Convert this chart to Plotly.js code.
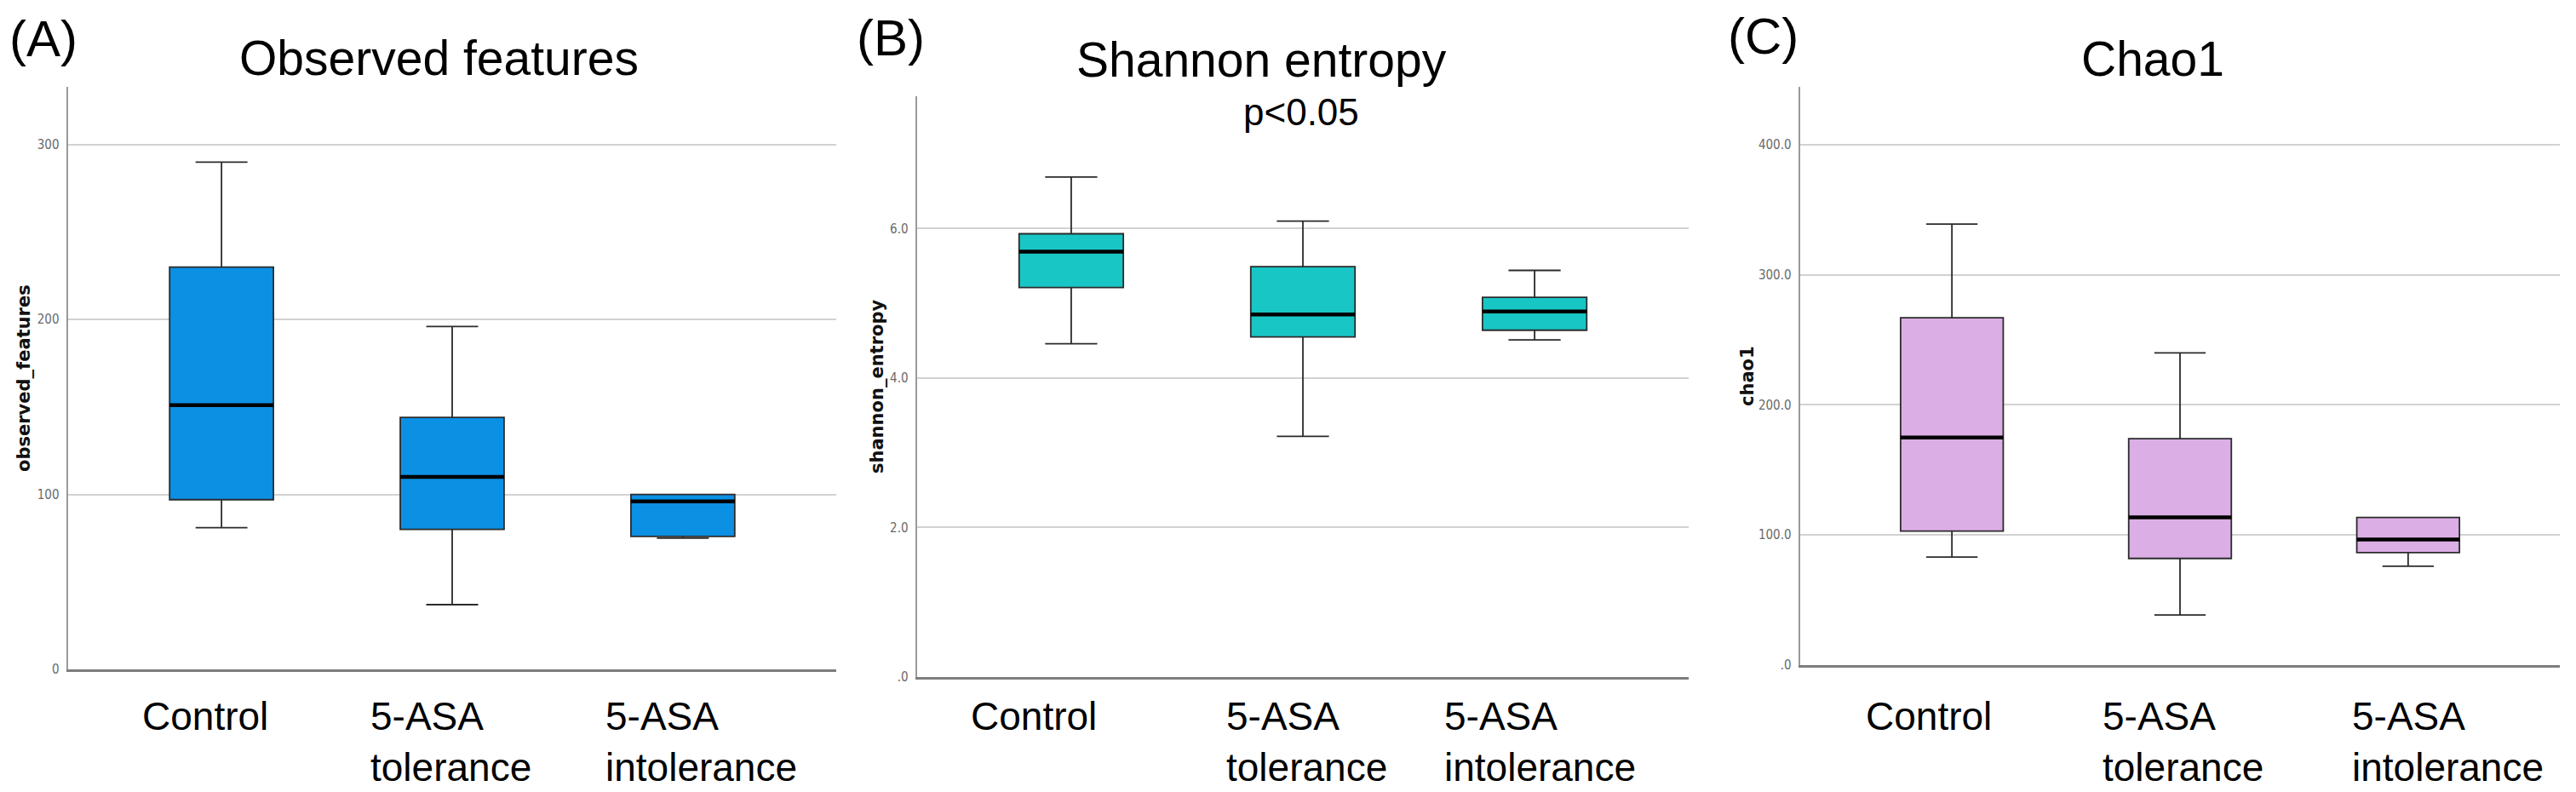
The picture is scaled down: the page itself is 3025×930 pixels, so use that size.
<!DOCTYPE html>
<html>
<head>
<meta charset="utf-8">
<script src="https://cdn.plot.ly/plotly-3.0.1.min.js"></script>
<style>
  html, body { margin: 0; padding: 0; background: #ffffff; }
  #chart { width: 3025px; height: 930px; }
</style>
</head>
<body>
<div id="chart"></div>
<script>
// ---------------- data ----------------
const categories = ['Control', '5-ASA tolerance', '5-ASA intolerance'];
const categoryLabels = ['Control', '5-ASA<br>tolerance', '5-ASA<br>intolerance'];

// (A) Observed features
const obsUpper  = [290, 196, 100];
const obsQ3     = [230, 144, 100];
const obsMedian = [151, 110, 96];
const obsQ1     = [97, 80, 76];
const obsLower  = [81, 37, 75];

// (B) Shannon entropy
const shanUpper  = [6.69, 6.10, 5.44];
const shanQ3     = [5.93, 5.49, 5.08];
const shanMedian = [5.69, 4.85, 4.89];
const shanQ1     = [5.21, 4.55, 4.64];
const shanLower  = [4.46, 3.22, 4.51];

// (C) Chao1
const chaoUpper  = [339, 240, 113.5];
const chaoQ3     = [267, 174, 113.5];
const chaoMedian = [175, 113.5, 96.5];
const chaoQ1     = [103, 82, 86.5];
const chaoLower  = [83, 38.6, 76];

// tick labels
const obsTickVals  = [0, 100, 200, 300];
const obsTickText  = ['0', '100', '200', '300'];
const shanTickVals = [0, 2, 4, 6];
const shanTickText = ['.0', '2.0', '4.0', '6.0'];
const chaoTickVals = [0, 100, 200, 300, 400];
const chaoTickText = ['.0', '100.0', '200.0', '300.0', '400.0'];

// ---------------- styling / layout ----------------
const W = 3025, H = 930;
const px = v => v / W;
const py = v => 1 - v / H;

const panels = [
  { key: '', label: '(A)', title: 'Observed features', sub: null, ytitle: 'observed_features',
    fill: '#0B90E4', upper: obsUpper, q3: obsQ3, med: obsMedian, q1: obsQ1, lower: obsLower,
    tickvals: obsTickVals, ticktext: obsTickText, yrange: [0, 333],
    xdom: [80, 982], ydom: [102, 786], labelPos: [9, 46], titlePos: [515, 67.5],
    ytitlePos: [28, 444], labelShift: [-19, -2, 22] },
  { key: '2', label: '(B)', title: 'Shannon entropy', sub: 'p<0.05', ytitle: 'shannon_entropy',
    fill: '#18C6C6', upper: shanUpper, q3: shanQ3, med: shanMedian, q1: shanQ1, lower: shanLower,
    tickvals: shanTickVals, ticktext: shanTickText, yrange: [0, 7.77],
    xdom: [1077, 1983], ydom: [113, 795], labelPos: [1004, 44], titlePos: [1481, 70],
    subPos: [1528, 131], ytitlePos: [1030, 454], labelShift: [-44, 4, 6] },
  { key: '3', label: '(C)', title: 'Chao1', sub: null, ytitle: 'chao1',
    fill: '#DCAEE6', upper: chaoUpper, q3: chaoQ3, med: chaoMedian, q1: chaoQ1, lower: chaoLower,
    tickvals: chaoTickVals, ticktext: chaoTickText, yrange: [0, 444.5],
    xdom: [2114, 3006], ydom: [102, 781], labelPos: [2027, 42], titlePos: [2528, 69.5],
    ytitlePos: [2052, 442], labelShift: [-27, 3, 47] }
];

const xpos = categories.map((c, i) => i);
const BOXW = 0.45;
const TXT = 'Liberation Sans, Arial, sans-serif';
const NARROW = 'Liberation Sans Narrow, DejaVu Sans Condensed, Arial Narrow, sans-serif';

const traces = [];
const layout = {
  width: W, height: H,
  margin: { l: 0, r: 0, t: 0, b: 0 },
  paper_bgcolor: '#ffffff', plot_bgcolor: '#ffffff',
  showlegend: false,
  annotations: []
};

panels.forEach(p => {
  const xa = 'x' + p.key, ya = 'y' + p.key;
  // main boxes
  traces.push({
    type: 'box', xaxis: xa, yaxis: ya, x: xpos,
    q1: p.q1, median: p.med, q3: p.q3, lowerfence: p.lower, upperfence: p.upper,
    width: BOXW, whiskerwidth: 0.5, fillcolor: p.fill,
    line: { color: '#2b2b2b', width: 1.8 }, boxpoints: false, hoverinfo: 'skip'
  });
  // thick median lines (degenerate boxes at the median)
  traces.push({
    type: 'box', xaxis: xa, yaxis: ya, x: xpos,
    q1: p.med, median: p.med, q3: p.med, lowerfence: p.med, upperfence: p.med,
    width: BOXW, whiskerwidth: 0.5, fillcolor: 'rgba(0,0,0,0)',
    line: { color: '#000000', width: 4.5 }, boxpoints: false, hoverinfo: 'skip'
  });

  layout['xaxis' + p.key] = {
    domain: [px(p.xdom[0]), px(p.xdom[1])], anchor: ya,
    type: 'linear', range: [-0.665, 2.665],
    showgrid: false, zeroline: false, showticklabels: false, ticks: '',
    showline: true, linecolor: '#7d7d7d', linewidth: 3
  };
  layout['yaxis' + p.key] = {
    domain: [py(p.ydom[1]), py(p.ydom[0])], anchor: xa,
    range: p.yrange, tickmode: 'array', tickvals: p.tickvals, ticktext: p.ticktext,
    showgrid: true, gridcolor: '#d2d2d2', gridwidth: 2, zeroline: false,
    showline: true, linecolor: '#9a9a9a', linewidth: 2.5,
    ticks: 'outside', ticklen: 5, tickcolor: 'rgba(0,0,0,0)',
    tickfont: { family: NARROW, size: 15, color: '#6a6a6a' }
  };

  // panel label
  layout.annotations.push({
    xref: 'paper', yref: 'paper', x: px(p.labelPos[0]), y: py(p.labelPos[1]),
    xanchor: 'left', yanchor: 'middle', showarrow: false, text: p.label,
    font: { family: TXT, size: 60, color: '#000000' }
  });
  // title
  layout.annotations.push({
    xref: 'paper', yref: 'paper', x: px(p.titlePos[0]), y: py(p.titlePos[1]),
    xanchor: 'center', yanchor: 'middle', showarrow: false, text: p.title,
    font: { family: TXT, size: 57, color: '#000000' }
  });
  if (p.sub) {
    layout.annotations.push({
      xref: 'paper', yref: 'paper', x: px(p.subPos[0]), y: py(p.subPos[1]),
      xanchor: 'center', yanchor: 'middle', showarrow: false, text: p.sub,
      font: { family: TXT, size: 44, color: '#000000' }
    });
  }
  // y-axis title
  layout.annotations.push({
    xref: 'paper', yref: 'paper', x: px(p.ytitlePos[0]), y: py(p.ytitlePos[1]),
    xanchor: 'center', yanchor: 'middle', showarrow: false, textangle: -90,
    text: '<b>' + p.ytitle + '</b>',
    font: { family: 'DejaVu Sans, sans-serif', size: 21, color: '#111111' }
  });
  // category labels
  categoryLabels.forEach((t, i) => {
    layout.annotations.push({
      xref: xa, yref: 'paper', x: xpos[i], y: py(813),
      xanchor: 'center', yanchor: 'top', align: 'left', showarrow: false,
      xshift: p.labelShift[i], text: t,
      font: { family: TXT, size: 46, color: '#000000' }
    });
  });
});

Plotly.newPlot('chart', traces, layout, { displayModeBar: false, staticPlot: true });
</script>
</body>
</html>
